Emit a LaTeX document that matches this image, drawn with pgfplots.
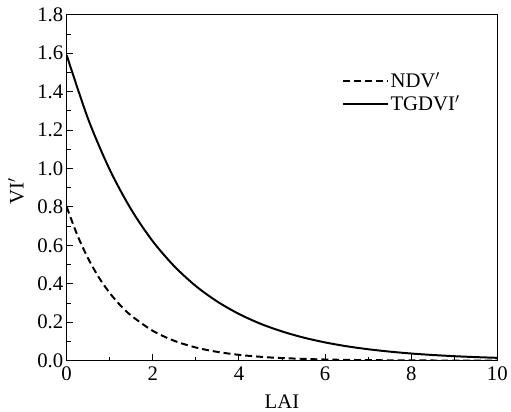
\documentclass[border=0pt]{standalone}
\usepackage{fontspec}
\setmainfont{Liberation Serif}
\usepackage{pgfplots}
\pgfplotsset{compat=1.18}

\begin{document}
\begin{tikzpicture}
\begin{axis}[
  name=ax,
  scale only axis,
  width=434.7bp, height=349bp,
  xmin=0, xmax=10, ymin=0, ymax=1.8,
  xtick={0,2,...,10}, minor xtick={1,3,...,9},
  ytick={0,0.2,...,1.8}, minor ytick={0.1,0.3,...,1.7},
  tick align=inside,
  xtick pos=bottom, ytick pos=left,
  major tick length=6.5bp, minor tick length=4bp,
  every tick/.style={black, line width=1pt},
  axis line style={line width=1.1pt},
  /pgf/number format/assume math mode=true,
  yticklabel style={/pgf/number format/.cd, fixed, fixed zerofill, precision=1},
  xticklabel style={yshift=-3bp},
  tick label style={font=\fontsize{21}{25}\selectfont},
  label style={font=\fontsize{21}{25}\selectfont},
  xlabel={LAI}, ylabel={VI$^{\prime}$},
  xlabel style={at={(axis description cs:0.5,0)}, anchor=north, yshift=-31bp},
  ylabel style={at={(axis description cs:0,0.49)}, anchor=center, yshift=51bp},
  legend style={draw=none, fill=none, at={(rel axis cs:0.632,0.845)}, anchor=north west,
    font=\fontsize{21}{25}\selectfont, row sep=2bp,
    nodes={inner sep=2bp}},
  legend image code/.code={\draw[#1, line width=2pt] (0bp,0bp) -- (45bp,0bp);},
  legend cell align=left,
]
\addplot[black, line width=2pt, dash pattern=on 7bp off 4bp, smooth] coordinates {
 (0,0.800) (0.25,0.652) (0.5,0.531) (0.75,0.432) (1,0.352) (1.25,0.287) (1.5,0.234)
 (2,0.155) (2.5,0.103) (3,0.0683) (3.5,0.0454) (4,0.0301) (4.5,0.0200) (5,0.0133)
 (6,0.0058) (7,0.0026) (8,0.0011) (9,0.0005) (10,0.0003)};
\addlegendentry{NDV$^{\prime}$}
\addplot[black, line width=2pt, smooth] coordinates {
 (0,1.590) (0.5,1.257) (1,0.994) (1.5,0.786) (2,0.621) (2.5,0.491) (3,0.388)
 (3.5,0.307) (4,0.243) (4.5,0.192) (5,0.152) (5.5,0.120) (6,0.0948) (6.5,0.0749)
 (7,0.0593) (7.5,0.0469) (8,0.0370) (8.5,0.0293) (9,0.0231) (9.5,0.0183) (10,0.0145)};
\addlegendentry{TGDVI$^{\prime}$}
\end{axis}
\path ([xshift=-67.3bp,yshift=-50bp]ax.south west) rectangle ([xshift=9bp,yshift=15bp]ax.north east);
\end{tikzpicture}
\end{document}
